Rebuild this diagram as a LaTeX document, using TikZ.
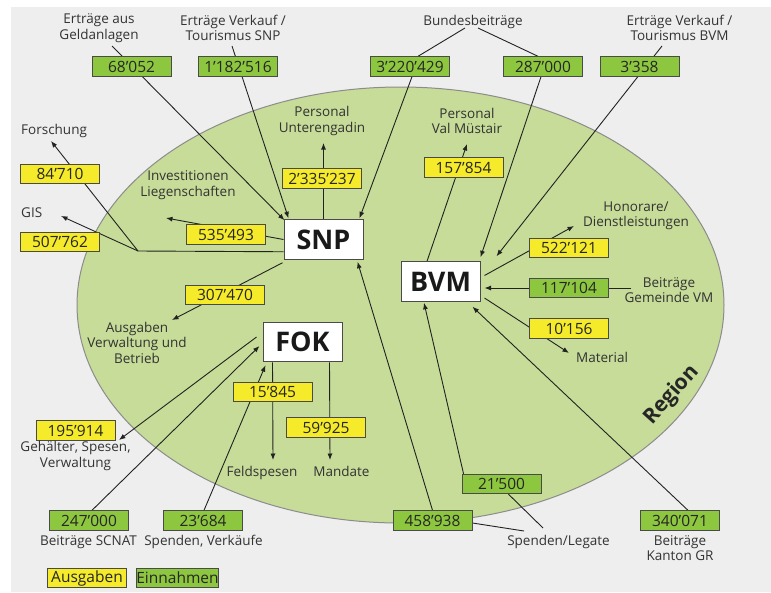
\documentclass[tikz,border=0pt]{standalone}
\usepackage{fontspec}
\setmainfont{Open Sans}
\usetikzlibrary{calc,arrows.meta}
\definecolor{bggray}{HTML}{EEEEEE}
\definecolor{regiongreen}{HTML}{C6DC98}
\definecolor{regionedge}{HTML}{8C8C8C}
\definecolor{ingreen}{HTML}{8DC63F}
\definecolor{outyellow}{HTML}{F5EB2B}
\definecolor{boxedge}{HTML}{4A4A4A}
\definecolor{txt}{HTML}{333333}
\definecolor{ln}{HTML}{222222}
\pgfdeclarelayer{bglayer}
\pgfdeclarelayer{linelayer}
\pgfsetlayers{bglayer,linelayer,main}
\tikzset{
  numbox/.style={draw=boxedge, line width=0.9pt, minimum width=79pt, minimum height=19.5pt,
    inner sep=0pt, text=black!85, font=\fontsize{15.5}{18}\selectfont},
  inbox/.style={numbox, fill=ingreen},
  outbox/.style={numbox, fill=outyellow},
  entity/.style={draw=boxedge, line width=1pt, fill=white, minimum width=79pt, minimum height=39.5pt,
    inner sep=0pt, text=black!90, font=\fontsize{27}{28}\selectfont\bfseries},
  lbl/.style={text=txt, align=center, inner sep=0pt, font=\fontsize{13.5}{15.5}\selectfont},
  conn/.style={draw=ln, line width=0.9pt},
  arr/.style={conn, -{Latex[length=6.5pt,width=5pt]}}
}
\begin{document}
\begin{tikzpicture}[x=1pt,y=-1pt]
\useasboundingbox (0,0) rectangle (771,592);
\begin{pgfonlayer}{bglayer}
  \fill[bggray] (10.5,7) rectangle (771,592);
  \filldraw[fill=regiongreen, draw=regionedge, line width=1pt] (400.5,305) ellipse [x radius=323.5, y radius=218];
\end{pgfonlayer}

% main entities
\node[entity] (snp) at (323.5,239.5) {SNP};
\node[entity] (bvm) at (440.5,281.5) {BVM};
\node[entity] (fok) at (302.5,342) {FOK};

% number boxes
\node[inbox] (b68) at (131.5,66.5) {68’052};
\node[inbox] (b1182) at (238,66.5) {1’182’516};
\node[inbox] (b3220) at (410,66.5) {3’220’429};
\node[inbox] (b287) at (543,66.5) {287’000};
\node[inbox] (b3358) at (639.5,66.5) {3’358};
\node[outbox] (b84) at (60,174) {84’710};
\node[outbox] (b507) at (60,242) {507’762};
\node[outbox] (b535) at (226,234.5) {535’493};
\node[outbox] (b2335) at (322,178.5) {2’335’237};
\node[outbox] (b307) at (225,295) {307’470};
\node[outbox] (b157) at (463.5,167.5) {157’854};
\node[outbox] (b522) at (569,248) {522’121};
\node[inbox] (b117) at (569,288) {117’104};
\node[outbox] (b10) at (569,328.5) {10’156};
\node[outbox] (b15) at (272.5,392) {15’845};
\node[outbox] (b59) at (326,427.5) {59’925};
\node[outbox] (b195) at (75.5,430.5) {195’914};
\node[inbox] (b247) at (89,520.5) {247’000};
\node[inbox] (b23) at (203,520.5) {23’684};
\node[inbox] (b21) at (501.5,484) {21’500};
\node[inbox] (b458) at (432.5,520.5) {458’938};
\node[inbox] (b340) at (680,520.5) {340’071};
\node[outbox] (legA) at (87,578) {Ausgaben};
\node[inbox] (legE) at (177.5,578) {Einnahmen};

% labels
\node[lbl] (lGeld) at (99,28) {Erträge aus\\Geldanlagen};
\node[lbl] (lVerkSNP) at (233,28) {Erträge Verkauf /\\Tourismus SNP};
\node[lbl, anchor=base] (lBund) at (473,25) {Bundesbeiträge};
\node[lbl] (lVerkBVM) at (679.5,28) {Erträge Verkauf /\\Tourismus BVM};
\node[lbl, anchor=base west] (lForsch) at (21,134) {Forschung};
\node[lbl, anchor=base west] (lGIS) at (21,217) {GIS};
\node[lbl] (lInv) at (188,185) {Investitionen\\Liegenschaften};
\node[lbl] (lPU) at (322,121) {Personal\\Unterengadin};
\node[lbl] (lPV) at (467,121) {Personal\\Val Müstair};
\node[lbl] (lHon) at (636,216) {Honorare/\\Dienstleistungen};
\node[lbl] (lGem) at (669,290) {Beiträge\\Gemeinde VM};
\node[lbl, anchor=base] (lMat) at (602,362) {Material};
\node[lbl] (lAusg) at (137,342.5) {Ausgaben\\Verwaltung und\\Betrieb};
\node[lbl] (lGeh) at (75.5,456) {Gehälter, Spesen,\\Verwaltung};
\node[lbl, anchor=base] (lFeld) at (262,476) {Feldspesen};
\node[lbl, anchor=base] (lMand) at (341.5,476) {Mandate};
\node[lbl, anchor=base] (lSCNAT) at (88.5,545) {Beiträge SCNAT};
\node[lbl, anchor=base] (lSpV) at (203.5,545) {Spenden, Verkäufe};
\node[lbl, anchor=base] (lSpL) at (558.5,545) {Spenden/Legate};
\node[lbl] (lKant) at (680,548) {Beiträge\\Kanton GR};
\node[text=black!85, inner sep=0pt, rotate=48, font=\fontsize{21}{22}\selectfont\bfseries] (lReg) at (672,395) {Region};

% free ends
\coordinate (cGeld) at (112,46);
\coordinate (cVerkSNP) at (232,46);
\coordinate (cBundL) at (465,28);
\coordinate (cBundR) at (478,28);
\coordinate (cVerkBVM) at (662,46);
\coordinate (tUnter) at (323.5,143);
\coordinate (tInv) at (166,218);
\coordinate (jSNP) at (138,251);
\coordinate (tGIS) at (61,216);
\coordinate (tForsch) at (51,141);
\coordinate (tAusg) at (172,320);
\coordinate (tVal) at (467,144);
\coordinate (tHon) at (574,226);
\coordinate (cGem) at (631,288);
\coordinate (tMat) at (569,353);
\coordinate (tGeh) at (119,440);
\coordinate (tFeld) at (273,460);
\coordinate (tMand) at (330,460);
\coordinate (cSpL1) at (524,531);
\coordinate (cSpL2) at (543,528);

\begin{pgfonlayer}{linelayer}
  % SNP incoming
  \draw[arr] (cGeld) -- ($(snp.north west)+(1,1)$);
  \draw[arr] (cVerkSNP) -- ($(snp.north west)+(5,-1)$);
  \draw[conn] (cBundL) -- ($(b3220.north)+(8,0)$);
  \draw[conn] (cBundR) -- ($(b287.north)+(-5,0)$);
  \draw[arr] ($(b3220.south)+(2,0)$) -- ($(snp.north east)+(-4,-1)$);
  \draw[arr] (b458.north) -- ($(snp.south east)+(-6,2)$);
  % SNP outgoing
  \draw[arr] (snp.north) -- (tUnter);
  \draw[arr] (snp.west) -- (tInv);
  \draw[conn] ($(snp.south west)+(0,-8)$) -- (jSNP);
  \draw[arr] (jSNP) -- (tGIS);
  \draw[arr] (jSNP) -- (tForsch);
  \draw[arr] ($(snp.south west)+(-1,3)$) -- (tAusg);
  % BVM incoming
  \draw[arr] ($(b287.south)+(-2,0)$) -- ($(bvm.north east)+(0,-4)$);
  \draw[arr] (cVerkBVM) -- ($(bvm.north east)+(16,-5)$);
  \draw[arr] (cGem) -- ($(bvm.east)+(4,6.5)$);
  \draw[arr] ($(b21.north west)+(2,0)$) -- ($(bvm.south west)+(23.5,1)$);
  \draw[arr] ($(b340.north)+(8,0)$) -- ($(bvm.south east)+(-8,5)$);
  \draw[conn] ($(b458.east)+(0,2.5)$) -- (cSpL1);
  \draw[conn] ($(b21.south)+(7,0)$) -- (cSpL2);
  % BVM outgoing
  \draw[arr] ($(bvm.north west)+(26.5,0)$) -- (tVal);
  \draw[arr] ($(bvm.east)+(4,-6)$) -- (tHon);
  \draw[arr] ($(bvm.east)+(4,16.5)$) -- (tMat);
  % FOK
  \draw[arr] ($(fok.west)+(-6,-5)$) -- (tGeh);
  \draw[arr] ($(b247.north)+(3,0)$) -- ($(fok.west)+(-3,4)$);
  \draw[arr] ($(b23.north)+(1,0)$) -- ($(fok.south west)+(3,3)$);
  \draw[arr] ($(fok.south west)+(10,0)$) -- (tFeld);
  \draw[arr] ($(fok.south west)+(67,0)$) -- (tMand);
\end{pgfonlayer}
\end{tikzpicture}
\end{document}
